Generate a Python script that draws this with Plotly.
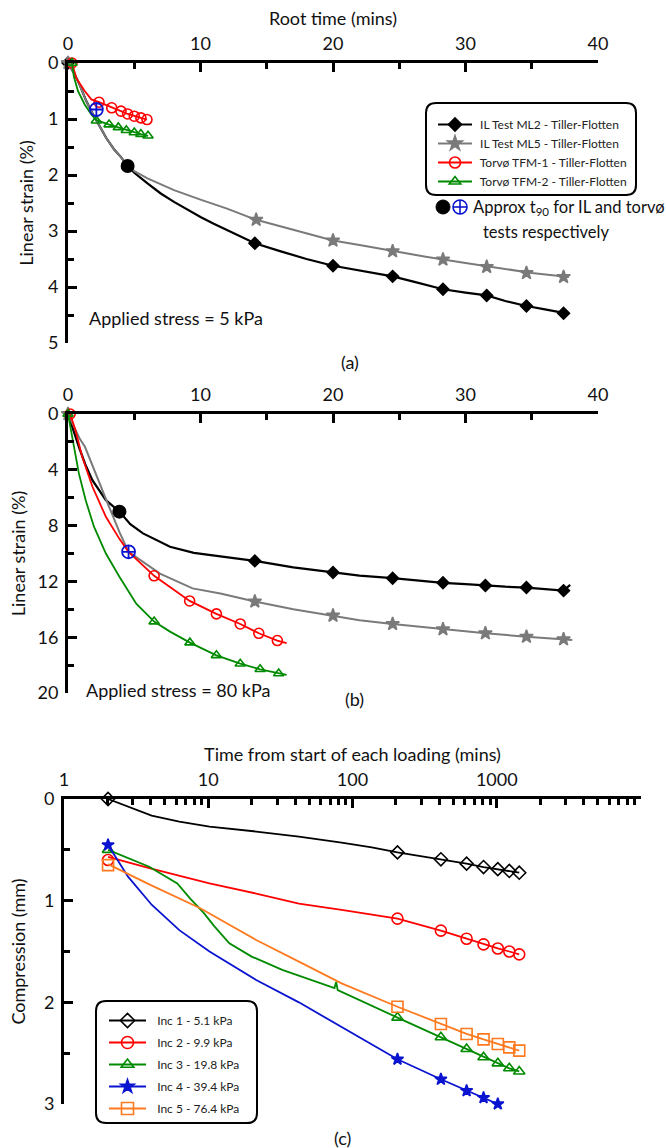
import plotly.graph_objects as go

W, H = 666, 1148
FONT = "Lato"

# ---------------- Panel (a): applied stress 5 kPa ----------------
a_ml2_x = [0, 0.5, 0.88, 1.38, 1.89, 2.39, 2.89, 3.5, 4, 4.5, 5, 6, 7, 8, 9, 10, 11, 12, 13, 14.1, 16, 18, 20, 22, 24.5, 26, 28.3, 30, 31.6, 33, 34.6, 36, 37.8]
a_ml2_y = [0, 0.2, 0.39, 0.68, 0.92, 1.13, 1.34, 1.55, 1.68, 1.84, 1.96, 2.15, 2.33, 2.48, 2.62, 2.75, 2.87, 2.98, 3.1, 3.22, 3.36, 3.5, 3.62, 3.71, 3.81, 3.9, 4.04, 4.1, 4.15, 4.25, 4.34, 4.4, 4.48]
a_ml2_mx = [0, 14.1, 20.0, 24.5, 28.3, 31.6, 34.6, 37.4]
a_ml2_my = [0, 3.22, 3.62, 3.81, 4.04, 4.15, 4.34, 4.47]

a_ml5_x = [0, 0.5, 0.88, 1.38, 1.89, 2.39, 2.89, 3.5, 4, 4.5, 5, 6, 8, 10, 12, 14.2, 17, 20, 22, 24.5, 27, 30, 33, 35, 37.8]
a_ml5_y = [0, 0.2, 0.39, 0.68, 0.92, 1.13, 1.34, 1.55, 1.68, 1.84, 1.93, 2.06, 2.27, 2.44, 2.6, 2.8, 2.98, 3.17, 3.25, 3.36, 3.46, 3.57, 3.68, 3.75, 3.82]
a_ml5_mx = [0, 14.2, 20.0, 24.5, 28.3, 31.6, 34.6, 37.4]
a_ml5_my = [0, 2.8, 3.17, 3.36, 3.51, 3.64, 3.75, 3.82]

a_tfm1_x = [0.3, 0.63, 1.26, 1.76, 2.34, 3.3, 4.0, 4.5, 5.0, 5.5, 5.96]
a_tfm1_y = [0, 0.27, 0.5, 0.65, 0.7, 0.8, 0.86, 0.91, 0.95, 0.98, 1.01]
a_tfm1_mx = [0.3, 2.34, 3.3, 4.0, 4.5, 5.0, 5.5, 5.96]
a_tfm1_my = [0, 0.7, 0.8, 0.86, 0.91, 0.95, 0.98, 1.01]

a_tfm2_x = [0.3, 0.45, 0.75, 1.26, 1.76, 2.14, 3.1, 3.8, 4.4, 5.0, 5.5, 6.04]
a_tfm2_y = [0, 0.25, 0.5, 0.74, 0.92, 1.02, 1.1, 1.15, 1.2, 1.24, 1.27, 1.3]
a_tfm2_mx = [0.3, 2.14, 3.1, 3.8, 4.4, 5.0, 5.5, 6.04]
a_tfm2_my = [0, 1.03, 1.1, 1.15, 1.2, 1.24, 1.27, 1.3]

a_t90_il = ([4.5], [1.84])
a_t90_torv = ([2.14], [0.83])

# ---------------- Panel (b): applied stress 80 kPa ----------------
b_ml2_x = [0, 0.4, 0.82, 1.3, 1.84, 2.86, 3.88, 4.7, 5.66, 7.7, 9.5, 11.5, 14.1, 17, 20.0, 22, 24.5, 26.5, 28.3, 30, 31.5, 33, 34.6, 36, 37.4, 37.9]
b_ml2_y = [0, 1.2, 2.35, 3.6, 4.74, 6.18, 7.0, 7.9, 8.56, 9.52, 9.95, 10.2, 10.53, 11.0, 11.36, 11.58, 11.77, 11.95, 12.1, 12.2, 12.3, 12.38, 12.44, 12.55, 12.66, 12.25]
b_ml2_mx = [14.1, 20.0, 24.5, 28.3, 31.5, 34.6, 37.4]
b_ml2_my = [10.53, 11.36, 11.77, 12.1, 12.3, 12.44, 12.66]

b_ml5_x = [0, 0.56, 0.9, 1.28, 1.8, 2.3, 3.1, 3.9, 4.57, 6.94, 9.4, 11.5, 14.1, 17, 20.0, 22, 24.5, 28.3, 31.5, 34.6, 37.4, 38.06]
b_ml5_y = [0, 1.15, 1.8, 2.35, 3.6, 4.74, 6.65, 8.5, 9.88, 11.44, 12.5, 12.87, 13.44, 14.0, 14.45, 14.78, 15.05, 15.43, 15.72, 15.96, 16.15, 16.2]
b_ml5_mx = [0, 14.1, 20.0, 24.5, 28.3, 31.5, 34.6, 37.4]
b_ml5_my = [0, 13.44, 14.45, 15.05, 15.43, 15.72, 15.96, 16.15]

b_tfm1_x = [0.16, 0.56, 1.07, 1.84, 2.86, 3.88, 4.57, 6.5, 9.18, 11.2, 13.0, 14.4, 15.8, 16.5]
b_tfm1_y = [0, 1.15, 3.06, 5.2, 7.37, 8.95, 9.88, 11.6, 13.4, 14.33, 15.05, 15.72, 16.24, 16.43]
b_tfm1_mx = [0.16, 6.5, 9.18, 11.2, 13.0, 14.4, 15.8]
b_tfm1_my = [0, 11.6, 13.4, 14.33, 15.05, 15.72, 16.24]

b_tfm2_x = [0, 0.18, 0.43, 0.82, 1.33, 1.96, 2.86, 3.88, 5.15, 6.5, 7.7, 9.2, 11.2, 13.0, 14.5, 15.9, 16.5]
b_tfm2_y = [0, 0.9, 2.35, 4.26, 6.17, 8.08, 10.0, 11.67, 13.6, 14.88, 15.6, 16.39, 17.3, 17.9, 18.3, 18.6, 18.7]
b_tfm2_mx = [0, 6.5, 9.2, 11.2, 13.0, 14.5, 15.9]
b_tfm2_my = [0, 14.88, 16.39, 17.3, 17.9, 18.3, 18.6]

b_t90_il = ([3.88], [7.0])
b_t90_torv = ([4.57], [9.88])

# ---------------- Panel (c): compression vs log time ----------------
c_mark_t = [2.02, 205, 410, 618, 810, 1017, 1222, 1432]

c1_t = [2.02, 2.78, 4.05, 6.3, 10.2, 21.5, 42.5, 84, 136, 205, 410, 618, 810, 1017, 1222, 1432]
c1_y = [0, 0.075, 0.164, 0.223, 0.272, 0.32, 0.37, 0.43, 0.475, 0.525, 0.593, 0.636, 0.669, 0.69, 0.708, 0.725]
c1_m = [0, 0.525, 0.593, 0.636, 0.669, 0.69, 0.708, 0.725]

c2_t = [2.02, 3.9, 10.2, 21.5, 42.5, 84, 205, 410, 618, 810, 1017, 1222, 1432]
c2_y = [0.57, 0.68, 0.83, 0.93, 1.03, 1.09, 1.177, 1.295, 1.374, 1.43, 1.47, 1.5, 1.528]
c2_m = [0.6, 1.177, 1.295, 1.374, 1.43, 1.47, 1.5, 1.528]

c3_t = [2.02, 3.9, 6.1, 7.5, 9.3, 11, 14, 20, 32.6, 50, 75, 77, 79, 205, 410, 618, 810, 1017, 1222, 1432]
c3_y = [0.5, 0.666, 0.83, 0.98, 1.12, 1.25, 1.42, 1.55, 1.68, 1.77, 1.86, 1.80, 1.88, 2.15, 2.344, 2.459, 2.54, 2.6, 2.649, 2.68]
c3_m = [0.5, 2.15, 2.344, 2.459, 2.54, 2.6, 2.649, 2.68]

c4_t = [2.02, 2.78, 4.05, 6.3, 10.2, 21.5, 42.5, 84, 205, 410, 618, 810, 1017, 1222, 1432]
c4_y = [0.452, 0.764, 1.04, 1.29, 1.5, 1.78, 2.0, 2.24, 2.56, 2.757, 2.869, 2.938, 3.0, 3.043, 3.075]
c4_m = [0.452, 2.56, 2.757, 2.869, 2.938, 3.0, 3.043, 3.075]

c5_t = [2.02, 3.9, 8.8, 21.5, 42.5, 84, 205, 410, 618, 810, 1017, 1222, 1432]
c5_y = [0.64, 0.84, 1.075, 1.387, 1.6, 1.813, 2.043, 2.213, 2.311, 2.364, 2.41, 2.443, 2.475]
c5_m = [0.65, 2.043, 2.213, 2.311, 2.364, 2.41, 2.443, 2.475]

a_names = ["IL Test ML2 - Tiller-Flotten", "IL Test ML5 - Tiller-Flotten",
           "Torvø TFM-1 - Tiller-Flotten", "Torvø TFM-2 - Tiller-Flotten"]
c_names = ["Inc 1 - 5.1 kPa", "Inc 2 - 9.9 kPa", "Inc 3 - 19.8 kPa",
           "Inc 4 - 39.4 kPa", "Inc 5 - 76.4 kPa"]

BLACK, GREY, RED, GREEN, BLUE, ORANGE = "#000000", "#7a7a7a", "#ff0000", "#008a00", "#0a14d0", "#ff7a1f"
NB = "\u00a0"


def px(p):
    return p / W


def py(p):
    return 1 - p / H


fig = go.Figure()


def add_series(xs, ys, mx, my, color, symbol, msize, name, xa, ya, legend=None, lw=1.8, group=None, pad=1):
    fig.add_trace(go.Scatter(x=xs, y=ys, mode="lines", line=dict(color=color, width=lw),
                             xaxis=xa, yaxis=ya, showlegend=False, hoverinfo="skip", cliponaxis=False))
    fig.add_trace(go.Scatter(x=mx, y=my, mode="markers",
                             marker=dict(symbol=symbol, size=msize, color=color,
                                         line=dict(color=color, width=1.6)),
                             xaxis=xa, yaxis=ya, showlegend=False, cliponaxis=False))
    if legend:
        fig.add_trace(go.Scatter(x=[None], y=[None], mode="lines+markers", name=NB * pad + name,
                                 line=dict(color=color, width=lw),
                                 marker=dict(symbol=symbol, size=msize + 1, color=color,
                                             line=dict(color=color, width=1.6)),
                                 xaxis=xa, yaxis=ya, legend=legend, legendgroup=group))


# panel (a)
add_series(a_ml2_x, a_ml2_y, a_ml2_mx, a_ml2_my, BLACK, "diamond", 9, a_names[0], "x", "y", "legend", 2.2, "a1")
add_series(a_ml5_x, a_ml5_y, a_ml5_mx, a_ml5_my, GREY, "star", 10, a_names[1], "x", "y", "legend", 2.0, "a2")
add_series(a_tfm1_x, a_tfm1_y, a_tfm1_mx, a_tfm1_my, RED, "circle-open", 10, a_names[2], "x", "y", "legend", 1.8, "a3")
add_series(a_tfm2_x, a_tfm2_y, a_tfm2_mx, a_tfm2_my, GREEN, "triangle-up-open", 9, a_names[3], "x", "y", "legend", 1.8, "a4")
fig.add_trace(go.Scatter(x=a_t90_il[0], y=a_t90_il[1], mode="markers", xaxis="x", yaxis="y", showlegend=False,
                         marker=dict(symbol="circle", size=14, color=BLACK)))
fig.add_trace(go.Scatter(x=a_t90_torv[0], y=a_t90_torv[1], mode="markers", xaxis="x", yaxis="y", showlegend=False,
                         marker=dict(symbol="circle-cross-open", size=13, color=BLUE, line=dict(color=BLUE, width=1.8))))

# panel (b)
add_series(b_ml2_x, b_ml2_y, b_ml2_mx, b_ml2_my, BLACK, "diamond", 9, a_names[0], "x2", "y2", lw=2.2)
add_series(b_ml5_x, b_ml5_y, b_ml5_mx, b_ml5_my, GREY, "star", 10, a_names[1], "x2", "y2", lw=2.0)
add_series(b_tfm1_x, b_tfm1_y, b_tfm1_mx, b_tfm1_my, RED, "circle-open", 10, a_names[2], "x2", "y2")
add_series(b_tfm2_x, b_tfm2_y, b_tfm2_mx, b_tfm2_my, GREEN, "triangle-up-open", 9, a_names[3], "x2", "y2")
fig.add_trace(go.Scatter(x=b_t90_il[0], y=b_t90_il[1], mode="markers", xaxis="x2", yaxis="y2", showlegend=False,
                         marker=dict(symbol="circle", size=14, color=BLACK)))
fig.add_trace(go.Scatter(x=b_t90_torv[0], y=b_t90_torv[1], mode="markers", xaxis="x2", yaxis="y2", showlegend=False,
                         marker=dict(symbol="circle-cross-open", size=13, color=BLUE, line=dict(color=BLUE, width=1.8))))

# panel (c)
add_series(c1_t, c1_y, c_mark_t, c1_m, BLACK, "diamond-open", 10, c_names[0], "x3", "y3", "legend2", 1.8, "c1", 2)
add_series(c2_t, c2_y, c_mark_t, c2_m, RED, "circle-open", 11, c_names[1], "x3", "y3", "legend2", 1.8, "c2", 2)
add_series(c3_t, c3_y, c_mark_t, c3_m, GREEN, "triangle-up-open", 10, c_names[2], "x3", "y3", "legend2", 1.8, "c3", 2)
add_series(c4_t, c4_y, c_mark_t, c4_m, BLUE, "star", 9, c_names[3], "x3", "y3", "legend2", 1.8, "c4", 2)
add_series(c5_t, c5_y, c_mark_t, c5_m, ORANGE, "square-open", 11, c_names[4], "x3", "y3", "legend2", 1.8, "c5", 2)

tickfont = dict(family=FONT, size=18, color="#111111")
titlefont = dict(family=FONT, size=18, color="#111111")
mnr = dict(ticks="inside", ticklen=6, tickwidth=2.5, tickcolor="black")
common = dict(showline=True, linecolor="black", linewidth=3, ticks="inside", tickwidth=2.5,
              tickcolor="black", ticklen=9, showgrid=False, zeroline=False, tickfont=tickfont,
              automargin=False, ticklabelstandoff=3)

fig.update_layout(
    width=W, height=H, margin=dict(l=0, r=0, t=0, b=0),
    paper_bgcolor="white", plot_bgcolor="white",
    font=dict(family=FONT, color="#111111"),
    xaxis=dict(domain=[px(68), px(598)], anchor="y", side="top", range=[0, 40],
               tickvals=[0, 10, 20, 30, 40], minor=dict(dtick=5, **mnr),
               title=dict(text="Root time (mins)", font=titlefont, standoff=2), **common),
    yaxis=dict(domain=[py(343), py(63)], anchor="x", range=[5, 0], tickvals=[0, 1, 2, 3, 4, 5],
               minor=dict(dtick=0.5, **mnr),
               title=dict(text="Linear strain (%)", font=titlefont, standoff=10), **common),
    xaxis2=dict(domain=[px(68), px(598)], anchor="y2", side="top", range=[0, 40],
                tickvals=[0, 10, 20, 30, 40], minor=dict(dtick=5, **mnr), **common),
    yaxis2=dict(domain=[py(693), py(414)], anchor="x2", range=[20, 0], tickvals=[0, 4, 8, 12, 16, 20],
                minor=dict(dtick=2, **mnr),
                title=dict(text="Linear strain (%)", font=titlefont, standoff=8), **common),
    xaxis3=dict(domain=[px(64), px(641)], anchor="y3", side="top", type="log", range=[0, 4],
                tickvals=[1, 10, 100, 1000, 10000], ticktext=["1", "10", "100", "1000", "10000"],
                minor=dict(dtick="D1", **mnr),
                title=dict(text="Time from start of each loading (mins)", font=titlefont, standoff=2), **common),
    yaxis3=dict(domain=[py(1104), py(799)], anchor="x3", range=[3, 0], tickvals=[0, 1, 2, 3],
                minor=dict(dtick=0.5, **mnr),
                title=dict(text="Compression (mm)", font=titlefont, standoff=14), **common),
    legend=dict(x=px(433), y=py(110), xanchor="left", yanchor="top", bgcolor="rgba(0,0,0,0)",
                font=dict(family=FONT, size=12, color="#222222"), itemwidth=34,
                traceorder="grouped", tracegroupgap=0),
    legend2=dict(x=px(104), y=py(1006), xanchor="left", yanchor="top", bgcolor="rgba(0,0,0,0)",
                 font=dict(family=FONT, size=12, color="#222222"), itemwidth=37,
                 traceorder="grouped", tracegroupgap=3),
)


def rounded_box(x0, y0, x1, y1, r):
    X0, X1 = px(x0), px(x1)
    Y0, Y1 = py(y0), py(y1)
    rx, ry = r / W, r / H
    return (f"M {X0+rx},{Y0} L {X1-rx},{Y0} Q {X1},{Y0} {X1},{Y0-ry} "
            f"L {X1},{Y1+ry} Q {X1},{Y1} {X1-rx},{Y1} L {X0+rx},{Y1} Q {X0},{Y1} {X0},{Y1+ry} "
            f"L {X0},{Y0-ry} Q {X0},{Y0} {X0+rx},{Y0} Z")


KY = 207
shapes = [
    dict(type="path", xref="paper", yref="paper", path=rounded_box(426, 103, 636, 195, 10),
         line=dict(color="black", width=2)),
    dict(type="path", xref="paper", yref="paper", path=rounded_box(96, 1001, 257, 1123, 10),
         line=dict(color="black", width=2)),
    # t90 key symbols
    dict(type="circle", xref="paper", yref="paper", x0=px(436), x1=px(450), y0=py(KY + 7), y1=py(KY - 7),
         fillcolor="black", line=dict(color="black", width=1)),
    dict(type="circle", xref="paper", yref="paper", x0=px(453), x1=px(467), y0=py(KY + 7), y1=py(KY - 7),
         line=dict(color=BLUE, width=1.6)),
    dict(type="line", xref="paper", yref="paper", x0=px(453), x1=px(467), y0=py(KY), y1=py(KY),
         line=dict(color=BLUE, width=1.6)),
    dict(type="line", xref="paper", yref="paper", x0=px(460), x1=px(460), y0=py(KY - 7), y1=py(KY + 7),
         line=dict(color=BLUE, width=1.6)),
]
fig.update_layout(shapes=shapes)

ann = [
    dict(text="Approx t<sub>90</sub> for IL and torvø", x=px(471), y=py(KY), size=16.5),
    dict(text="tests respectively", x=px(481), y=py(232), size=16.5),
    dict(text="Applied stress = 5 kPa", x=px(87), y=py(318), size=18),
    dict(text="Applied stress = 80 kPa", x=px(84), y=py(690), size=18),
]
annotations = []
for a in ann:
    sz = a.pop("size")
    annotations.append(dict(xref="paper", yref="paper", xanchor="left", yanchor="middle", showarrow=False,
                            font=dict(family=FONT, size=sz, color="#111111"), **a))
for lab, xx, yy in [("(a)", 350, 362), ("(b)", 354, 699), ("(c)", 342, 1138)]:
    annotations.append(dict(text=lab, xref="paper", yref="paper", x=px(xx), y=py(yy), xanchor="center",
                            yanchor="middle", showarrow=False, font=dict(family=FONT, size=18, color="#111111")))
fig.update_layout(annotations=annotations)

fig.write_html("out.html", config={"displayModeBar": False},
               post_script="document.body.style.margin='0';document.body.style.padding='0';"
                           "document.documentElement.style.overflow='hidden';")
